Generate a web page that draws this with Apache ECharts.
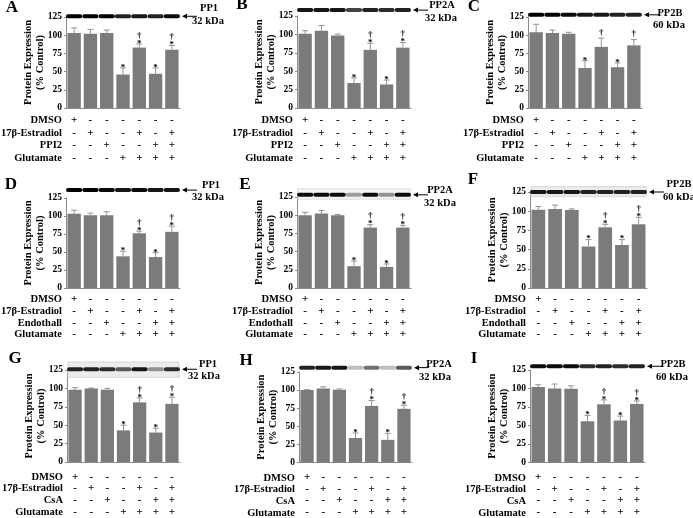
<!DOCTYPE html>
<html><head><meta charset="utf-8">
<script src="https://cdn.jsdelivr.net/npm/echarts@6/dist/echarts.min.js"></script>
<style>html,body{margin:0;padding:0;background:#fff}#c{width:693px;height:518px}</style>
</head><body><div id="c"></div>
<script>
// ---------- data ----------
const lanes = ['L1','L2','L3','L4','L5','L6','L7'];
const dmso      = ['+','-','-','-','-','-','-'];
const estradiol = ['-','+','-','-','+','-','+'];
const inhibitor = ['-','-','+','-','-','+','+'];
const glutamate = ['-','-','-','+','+','+','+'];
const yTicks = [0, 25, 50, 75, 100, 125];

const valA = [103, 102, 103, 46, 83, 47, 80];
const errA = [7, 6, 4, 9, 5, 8, 6];
const valB = [101, 105, 98.5, 34, 79, 32, 82];
const errB = [4, 7, 2, 7, 9, 6, 7];
const valC = [104, 103, 102, 55, 84, 56, 86];
const errC = [11, 4, 2, 10, 12, 6, 8];
const valD = [103, 101, 101, 44, 76, 43, 78];
const errD = [5, 3, 5, 7, 3, 6, 8];
const valE = [100, 102.5, 100, 30, 83, 29, 83];
const errE = [4, 4, 1, 7, 4, 4, 3];
const valF = [102, 103, 101.5, 54, 79, 56, 83];
const errF = [4, 5, 1.5, 9, 4, 7, 9];
const valG = [98, 100, 98, 43, 81, 40, 79];
const errG = [3, 0.5, 2, 7, 6, 6, 9];
const valH = [100, 102, 100.5, 33.5, 78, 31, 74];
const errH = [0.5, 2.5, 1, 7, 7.5, 9, 5];
const valI = [102, 100, 99.5, 55.5, 78.5, 56.5, 79];
const errI = [3, 6, 4, 8, 6, 6, 4];

const starStd   = [0,0,0,1,1,1,1];
const daggerStd = [0,0,0,0,1,0,1];
const starC     = [0,0,0,1,0,1,0];

// western blot band intensity (0..1) per lane
const bandA = [1, 1, 1, 0.85, 0.9, 0.85, 0.95];
const bandB = [0.9, 0.9, 0.9, 0.7, 0.85, 0.8, 0.85];
const bandC = [1, 1, 0.95, 0.9, 0.9, 0.85, 0.85];
const bandD = [1, 1, 0.95, 0.9, 0.95, 0.9, 0.9];
const bandE = [0.95, 0.95, 0.95, 0.3, 0.95, 0.35, 0.95];
const bandF = [0.9, 0.9, 0.9, 0.85, 0.85, 0.85, 0.85];
const bandG = [0.85, 0.85, 0.8, 0.6, 0.9, 0.35, 0.8];
const bandH = [0.85, 0.9, 0.9, 0.15, 0.5, 0.15, 0.6];
const bandI = [0.95, 0.95, 0.95, 0.8, 0.85, 0.8, 0.85];

const letters = ['A','B','C','D','E','F','G','H','I'];
const proteins = ['PP1','PP2A','PP2B','PP1','PP2A','PP2B','PP1','PP2A','PP2B'];
const kdas = ['32 kDa','32 kDa','60 kDa','32 kDa','32 kDa','60 kDa','32 kDa','32 kDa','60 kDa'];
const inhibitorNames = ['PPI2','PPI2','PPI2','Endothall','Endothall','Endothall','CsA','CsA','CsA'];
const rowNames = ['DMSO', '17β-Estradiol', null, 'Glutamate'];
const values = [valA, valB, valC, valD, valE, valF, valG, valH, valI];
const errors = [errA, errB, errC, errD, errE, errF, errG, errH, errI];
const stars = [starStd, starStd, starC, starStd, starStd, starStd, starStd, starStd, starStd];
const daggers = [daggerStd, daggerStd, daggerStd, daggerStd, daggerStd, daggerStd, daggerStd, daggerStd, daggerStd];
const bands = [bandA, bandB, bandC, bandD, bandE, bandF, bandG, bandH, bandI];
const blotLevel = [126, 133, 128, 136, 128, 125, 126, 131, 130];
const blotBox = [null, null, null, null, [122, 136], [119, 132], [115, 136], null, null];

// ---------- layout (pixels) ----------
const layout = [
  {left: 66,  top: 17,  width: 114, height: 91, lh: 12.5, margin: 6.2, letter: [12, 8],   prot: [209, 8],   kda: [208, 21]},
  {left: 297, top: 16,  width: 114, height: 92, lh: 12.5, margin: 6.2, letter: [242, 5],  prot: [442, 5],   kda: [441, 18]},
  {left: 528, top: 17,  width: 114, height: 91, lh: 12.5, margin: 6.2, letter: [474, 7],  prot: [670, 13], kda: [669, 25]},
  {left: 66,  top: 198, width: 114, height: 90, lh: 11.7, margin: 5.7, letter: [11, 185], prot: [211, 185], kda: [208, 197]},
  {left: 297, top: 197, width: 114, height: 91, lh: 11.7, margin: 5.7, letter: [245, 185], prot: [440, 190], kda: [440, 203]},
  {left: 530, top: 192, width: 117, height: 96, lh: 11.7, margin: 5.7, letter: [473, 180], prot: [679, 184], kda: [679, 197]},
  {left: 67,  top: 370, width: 113, height: 92, lh: 11.7, margin: 9,   letter: [15, 359], prot: [208, 364], kda: [204, 376]},
  {left: 299, top: 372, width: 113, height: 91, lh: 11.7, margin: 9,   letter: [246, 361], prot: [439, 364], kda: [435, 377]},
  {left: 530, top: 370, width: 115, height: 93, lh: 11.7, margin: 9,   letter: [474, 359], prot: [673, 364], kda: [672, 377]}
];

const SERIF = '"Liberation Serif", "Times New Roman", serif';
const AXIS_COLOR = '#8a8a8a';
const BAR_COLOR = '#7b7b7b';

const grids = [], xAxes = [], yAxes = [], series = [], graphics = [];

layout.forEach((L, p) => {
  grids.push({left: L.left, top: L.top, width: L.width, height: L.height, containLabel: false});
  xAxes.push({
    type: 'category', gridIndex: p, data: lanes,
    axisLine: {lineStyle: {color: AXIS_COLOR, width: 1}},
    axisTick: {show: false},
    axisLabel: {
      interval: 0, margin: L.margin, lineHeight: L.lh, color: '#000',
      fontFamily: SERIF, fontWeight: 'bold', fontSize: 11,
      formatter: (v, i) => [dmso[i], estradiol[i], inhibitor[i], glutamate[i]].join('\n')
    }
  });
  yAxes.push({
    type: 'value', gridIndex: p, min: yTicks[0], max: yTicks[yTicks.length - 1], interval: 25,
    name: 'Protein Expression\n(% Control)', nameLocation: 'middle', nameRotate: 90, nameGap: 20,
    nameMoveOverlap: false,
    nameTextStyle: {fontFamily: SERIF, fontWeight: 'bold', fontSize: 10.5, color: '#000', lineHeight: 12},
    axisLine: {show: true, lineStyle: {color: AXIS_COLOR, width: 1}},
    axisTick: {show: true, length: 2, lineStyle: {color: AXIS_COLOR}},
    splitLine: {show: false},
    axisLabel: {margin: 4, color: '#000', fontFamily: SERIF, fontWeight: 'bold', fontSize: 9.5}
  });
  series.push({
    type: 'bar', xAxisIndex: p, yAxisIndex: p, data: values[p], barWidth: '82%',
    itemStyle: {color: BAR_COLOR}, silent: true, animation: false
  });
  // error bars + significance marks
  series.push({
    type: 'custom', xAxisIndex: p, yAxisIndex: p, animation: false, silent: true, clip: false,
    data: values[p].map((v, i) => [i, v, errors[p][i], stars[p][i], daggers[p][i]]),
    renderItem: (params, api) => {
      const i = api.value(0), v = api.value(1), e = api.value(2), st = api.value(3), dg = api.value(4);
      const p0 = api.coord([i, v]), p1 = api.coord([i, v + e]);
      const ch = [
        {type: 'line', shape: {x1: p0[0], y1: p0[1], x2: p1[0], y2: p1[1]}, style: {stroke: '#939393', lineWidth: 1}},
        {type: 'line', shape: {x1: p1[0] - 3, y1: p1[1], x2: p1[0] + 3, y2: p1[1]}, style: {stroke: '#939393', lineWidth: 1}}
      ];
      if (st) ch.push({type: 'text', style: {text: '*', x: p1[0], y: p1[1] + 4, align: 'center', verticalAlign: 'bottom',
        fontFamily: SERIF, fontWeight: 'bold', fontSize: 9, fill: '#000'}});
      if (dg) ch.push({type: 'text', style: {text: '†', x: p1[0], y: p1[1] - (st ? 4 : 1), align: 'center', verticalAlign: 'bottom',
        fontFamily: SERIF, fontWeight: 'bold', fontSize: 9, fill: '#000'}});
      return {type: 'group', children: ch};
    }
  });
  // blot background box
  if (blotBox[p]) {
    series.push({
      type: 'custom', xAxisIndex: p, yAxisIndex: p, animation: false, silent: true, clip: false, z: 1,
      data: [[0, blotBox[p][0], blotBox[p][1]]],
      renderItem: (params, api) => {
        const bw = api.size([1, 0])[0];
        const a = api.coord([0, api.value(2)]), b = api.coord([lanes.length - 1, api.value(1)]);
        return {type: 'rect', shape: {x: a[0] - bw * 0.45, y: a[1], width: b[0] - a[0] + bw * 0.9, height: b[1] - a[1]},
          style: {fill: p === 4 ? '#f6f6f6' : '#ececec', stroke: '#c8c8c8', lineWidth: 0.6}};
      }
    });
  }
  // blot bands
  series.push({
    type: 'custom', xAxisIndex: p, yAxisIndex: p, animation: false, silent: true, clip: false, z: 3,
    data: bands[p].map((b, i) => [i, blotLevel[p], b]),
    renderItem: (params, api) => {
      const bw = api.size([1, 0])[0];
      const c = api.coord([api.value(0), api.value(1)]);
      const k = api.value(2);
      const g = Math.round(225 - 225 * k);
      return {type: 'rect', shape: {x: c[0] - bw * 0.5, y: c[1] - 2, width: bw, height: 4, r: 2},
        style: {fill: `rgb(${g},${g},${g})`}};
    }
  });

  // panel letter
  graphics.push({type: 'text', style: {text: letters[p], x: L.letter[0], y: L.letter[1], align: 'center', verticalAlign: 'middle',
    fontFamily: SERIF, fontWeight: 'bold', fontSize: 17, fill: '#000'}});
  // protein labels
  graphics.push({type: 'text', style: {text: proteins[p], x: L.prot[0], y: L.prot[1], align: 'center', verticalAlign: 'middle',
    fontFamily: SERIF, fontWeight: 'bold', fontSize: 10.5, fill: '#000'}});
  graphics.push({type: 'text', style: {text: kdas[p], x: L.kda[0], y: L.kda[1], align: 'center', verticalAlign: 'middle',
    fontFamily: SERIF, fontWeight: 'bold', fontSize: 10.5, fill: '#000'}});
  // arrow pointing at blot
  const ay = L.top + L.height * (1 - blotLevel[p] / yTicks[yTicks.length - 1]);
  const ax = L.left + L.width + 2;
  graphics.push({type: 'polygon', shape: {points: [[ax, ay], [ax + 5, ay - 2.5], [ax + 5, ay + 2.5]]}, style: {fill: '#000'}});
  graphics.push({type: 'line', shape: {x1: ax + 5, y1: ay, x2: ax + 15, y2: ay}, style: {stroke: '#000', lineWidth: 1}});
  // treatment row names
  const names = [rowNames[0], rowNames[1], inhibitorNames[p], rowNames[3]];
  names.forEach((n, r) => {
    const y = L.top + L.height + L.margin + L.lh * (r + 0.5);
    graphics.push({type: 'text', style: {text: n, x: L.left - 4, y: y, align: 'right', verticalAlign: 'middle',
      fontFamily: SERIF, fontWeight: 'bold', fontSize: 10.5, fill: '#000'}});
  });
});

const chart = echarts.init(document.getElementById('c'), null, {renderer: 'canvas'});
chart.setOption({
  animation: false,
  backgroundColor: '#fff',
  grid: grids, xAxis: xAxes, yAxis: yAxes, series: series,
  graphic: {elements: graphics}
});
</script></body></html>
